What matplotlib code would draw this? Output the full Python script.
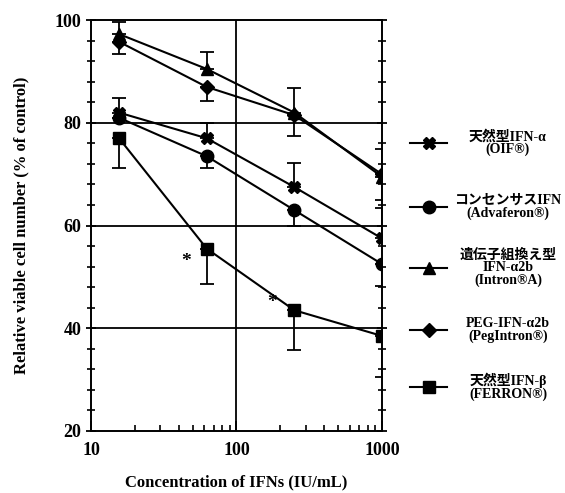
import matplotlib
matplotlib.use("Agg")
import matplotlib.pyplot as plt
from matplotlib.lines import Line2D
import numpy as np

plt.rcParams['font.family'] = ['Liberation Serif', 'Noto Sans CJK JP', 'DejaVu Sans']
plt.rcParams['font.weight'] = 'bold'

# Data
conc = [15.6, 62.5, 250, 1000]

oif = [82.0, 77.0, 67.5, 57.5]
oif_lo = [0, 0, 0, 0]
oif_hi = [2.8, 3.0, 4.7, 6.0]

adva = [81.0, 73.5, 63.0, 52.5]
adva_lo = [0, 2.3, 3.0, 4.2]
adva_hi = [0, 0, 0, 0]

intron = [97.3, 90.5, 82.0, 69.5]
intron_lo = [0, 0, 0, 0]
intron_hi = [2.3, 3.4, 4.7, 5.5]

peg = [95.8, 87.0, 81.5, 70.0]
peg_lo = [2.3, 2.8, 4.0, 5.0]
peg_hi = [0, 0, 0, 0]

ferron = [77.0, 55.5, 43.5, 38.5]
ferron_lo = [5.8, 6.8, 7.7, 8.0]
ferron_hi = [0, 0, 0, 0]

labels = ['天然型IFN-α\n(OIF®)',
          'コンセンサスIFN\n(Advaferon®)',
          '遺伝子組換え型\nIFN-α2b\n(Intron®A)',
          'PEG-IFN-α2b\n(PegIntron®)',
          '天然型IFN-β\n(FERRON®)']

series = [(oif, oif_lo, oif_hi, 'X', 8),
          (adva, adva_lo, adva_hi, 'o', 9),
          (intron, intron_lo, intron_hi, '^', 9),
          (peg, peg_lo, peg_hi, 'D', 7),
          (ferron, ferron_lo, ferron_hi, 's', 9)]

fig = plt.figure(figsize=(5.65, 4.93), dpi=100)
ax = fig.add_axes([0.161, 0.126, 0.515, 0.833])

# grid lines drawn in the figure
for yv in [40, 60, 80]:
    ax.axhline(yv, color='black', lw=1.3, zorder=1)
ax.axvline(100, color='black', lw=1.3, zorder=1)

for vals, lo, hi, mk, ms in series:
    ax.errorbar(conc, vals, yerr=[lo, hi], fmt='none', ecolor='black',
                elinewidth=1.3, capsize=5, capthick=1.3, zorder=2)
    ax.plot(conc, vals, color='black', lw=1.5, marker=mk, ms=ms,
            markerfacecolor='black', markeredgecolor='black', zorder=3)

ax.text(45, 53, '*', fontsize=14, ha='center', va='center')
ax.text(175, 45, '*', fontsize=14, ha='center', va='center')

ax.set_xscale('log')
ax.set_xlim(10, 1000)
ax.set_ylim(20, 100)
ax.set_xticks([10, 100, 1000])
ax.set_xticklabels(['10', '100', '1000'])
ax.set_yticks([20, 40, 60, 80, 100])
ax.set_yticks(np.arange(20, 101, 4), minor=True)
ax.tick_params(axis='both', which='major', labelsize=13, width=1.3, length=7)
ax.tick_params(axis='y', which='both', direction='inout', right=True)
ax.tick_params(axis='y', which='minor', length=6, width=1.2)
ax.tick_params(axis='x', which='both', direction='in', top=False)
ax.tick_params(axis='x', which='minor', length=4, width=1.2)
ax.tick_params(axis='x', which='major', pad=8)
for s in ax.spines.values():
    s.set_linewidth(1.4)

ax.set_xlabel('Concentration of IFNs (IU/mL)', fontsize=12, fontweight='bold', labelpad=11)
ax.set_ylabel('Relative viable cell number (% of control)', fontsize=12, fontweight='bold', labelpad=18)

# legend drawn by hand on the right
rows_y = [143, 207, 268, 330, 387]
for (vals, lo, hi, mk, ms), lab, ry in zip(series, labels, rows_y):
    yf = 1 - ry / 493
    fig.add_artist(Line2D([410 / 565, 447 / 565], [yf, yf], color='black', lw=1.5,
                          transform=fig.transFigure))
    fig.add_artist(Line2D([428.5 / 565], [yf], color='black', marker=mk, ms=ms,
                          transform=fig.transFigure))
    fig.text(508 / 565, yf, lab, ha='center', va='center', fontsize=10,
             fontweight='bold', multialignment='center', linespacing=0.95)

fig.savefig('out.png', dpi=100)
